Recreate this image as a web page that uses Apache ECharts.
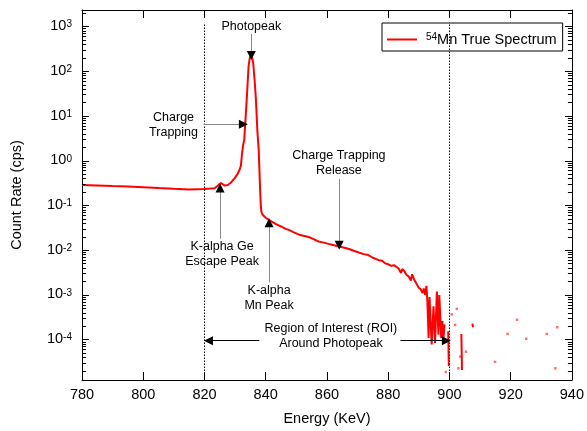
<!DOCTYPE html>
<html>
<head>
<meta charset="utf-8">
<script src="https://cdn.jsdelivr.net/npm/echarts@6/dist/echarts.min.js"></script>
<style type="text/css">
  body{ margin:0; background:#fff; }
  #main{ width:587px; height:431px; }
</style>
</head>
<body>
<div id="main"></div>
<script>
// spectrum, energy in keV and count rate in cps (null = empty bins)
var energy = [780, 785, 790, 795, 800, 805, 810, 815, 820, 822, 823.3, 824.3, 824.9, 825.4, 826, 826.6, 827.6, 828.5, 829.2, 830, 830.8, 831.5, 831.9, 832.2, 832.6, 833, 833.4, 833.8, 834.4, 834.8, 835.2, 835.6, 835.9, 836.4, 836.8, 837.3, 837.7, 838.2, 838.4, 838.6, 839, 840, 841, 842, 843.5, 845, 846.5, 847.6, 849, 850.9, 853, 854.5, 856, 857.4, 859, 860.5, 862, 864, 866, 867.5, 868.5, 870.4, 872, 873.5, 875, 876.9, 878, 879, 880.2, 881, 882, 883.4, 884.2, 884.6, 885.3, 886, 886.7, 887.4, 887.8, 888.5, 889.2, 889.9, 890.6, 891.2, 891.6, 892.1, 892.5, 892.8, 893.2, 893.5, 893.8, 894.2, 894.8, 895.3, 895.9, 896.4, 896.7, 897.3, 897.7, 898, 898.4, 898.9, 899.6, 899.8, 900.5, 903.9, 904.1, 905, 907.5, 907.7, 908];
var rate = [0.288, 0.281, 0.272, 0.265, 0.257, 0.245, 0.236, 0.229, 0.234, 0.24, 0.244, 0.275, 0.303, 0.319, 0.298, 0.278, 0.288, 0.318, 0.36, 0.42, 0.506, 0.64, 0.78, 1.3, 2.2, 3.0, 8.5, 23.5, 129, 200, 235, 200, 155, 60, 23.5, 4.3, 1.82, 0.2, 0.1, 0.071, 0.062, 0.0533, 0.048, 0.0437, 0.038, 0.034, 0.030, 0.0285, 0.0255, 0.0223, 0.0205, 0.0192, 0.0172, 0.0156, 0.0148, 0.0139, 0.0131, 0.0121, 0.0112, 0.0105, 0.0099, 0.0089, 0.0082, 0.0078, 0.0068, 0.0060, 0.0058, 0.0051, 0.0048, 0.0045, 0.0046, 0.0039, 0.0031, 0.0038, 0.0034, 0.0028, 0.0026, 0.0021, 0.0029, 0.0022, 0.0018, 0.00148, 0.00135, 0.0011, 0.0014, 0.001, 0.0016, 0.00072, 0.00011, 0.0009, 0.00093, 0.000078, 0.00056, 0.000085, 0.0012, 0.00013, 0.001, 0.00011, 0.00026, 0.000093, 0.00022, null, 0.000155, 0.000026, null, 0.000135, 0.000021, null, 0.00023, 0.00019, null];
// single isolated bins above 899 keV
var dotEnergy = [898.8, 900.75, 901.85, 902.4, 902.9, 903.5, 905.4, 914.9, 919.0, 922.1, 925.1, 931.8, 934.6, 935.2];
var dotRate = [0.000019, 0.00037, 0.000215, 0.00049, 0.000023, 0.000042, 0.000054, 0.000032, 0.000135, 0.00028, 0.000105, 0.000135, 0.000023, 0.00019];

var xTicks = [780, 800, 820, 840, 860, 880, 900, 920, 940];
var yDecades = [-4, -3, -2, -1, 0, 1, 2, 3];
var roiEdges = [820, 900];

// annotations: text, text position [keV, cps], arrow start, arrow tip
var noteText = ['Photopeak', 'Charge\nTrapping', 'Charge Trapping\nRelease', 'K-alpha Ge\nEscape Peak', 'K-alpha\nMn Peak', 'Region of Interest (ROI)\nAround Photopeak'];
var noteAt = [[835.3, 1000], [809.9, 6.4], [863.9, 0.87], [825.75, 0.0083], [841.1, 0.00085], [861.3, 0.000121]];
var arrowFrom = [[835.3, 690], [819.7, 6.55], [864.0, 0.39], [825.1, 0.018], [841.1, 0.0019], [837.9, 0.000095], [884.0, 0.000095]];
var arrowTo = [[835.3, 225], [832.7, 6.55], [864.0, 0.0129], [825.1, 0.247], [841.1, 0.0413], [821.3, 0.000095], [899.0, 0.000095]];
var arrowColor = ['#8a8a8a', '#8a8a8a', '#8a8a8a', '#8a8a8a', '#8a8a8a', '#000', '#000'];

var font = 'Liberation Sans';
var W = 587, H = 431;
var grid = {left: 82, right: 12, top: 10, bottom: 49};
var xMin = 780, xMax = 940;
var yMin = -4.9, yMax = 3.37;
var lg = function(v){ return v == null ? null : Math.log10(v); };
// pixels per data unit, used to turn tick lengths (px) into data lengths
var pxX = (W - grid.left - grid.right) / (xMax - xMin);
var pxY = (H - grid.top - grid.bottom) / (yMax - yMin);

var spectrum = [];
for (var i = 0; i < energy.length; i++) spectrum.push([energy[i], lg(rate[i])]);
var dots = [];
for (var i = 0; i < dotEnergy.length; i++) dots.push([dotEnergy[i], lg(dotRate[i])]);

var markLines = [];
var tickStyle = {color: '#000', width: 1, type: 'solid'};
var seg = function(p, q, style){
	markLines.push([
		{coord: p, symbol: 'none', lineStyle: style},
		{coord: q, symbol: 'none'}
	]);
};

// inward frame ticks on all four sides
var eps = 1e-6;
for (var i = 0; i < xTicks.length; i++) {
	var xv = Math.min(Math.max(xTicks[i], xMin + eps), xMax - eps);
	seg([xv, yMin + eps], [xv, yMin + 8 / pxY], tickStyle);
	seg([xv, yMax - eps], [xv, yMax - 8 / pxY], tickStyle);
}
for (var d = -5; d <= 3; d++) {
	for (var k = 1; k <= 9; k++) {
		var t = d + Math.log10(k);
		if (t <= yMin || t >= yMax) continue;
		var len = (k === 1 ? 7 : 4) / pxX;
		seg([xMin + eps, t], [xMin + len, t], tickStyle);
		seg([xMax - eps, t], [xMax - len, t], tickStyle);
	}
}

// dotted ROI borders
for (var i = 0; i < roiEdges.length; i++) {
	seg([roiEdges[i], yMin], [roiEdges[i], 3.08], {color: '#000', width: 1, type: [1.5, 1.5]});
}
// arrows: thin shaft plus a short black segment carrying the head
for (var i = 0; i < arrowFrom.length; i++) {
	var a = [arrowFrom[i][0], lg(arrowFrom[i][1])];
	var b = [arrowTo[i][0], lg(arrowTo[i][1])];
	seg(a, b, {color: arrowColor[i], width: 1, type: 'solid'});
	var h = [b[0] + (a[0] - b[0]) * 0.02, b[1] + (a[1] - b[1]) * 0.02];
	markLines.push([
		{coord: h, symbol: 'none', lineStyle: {color: '#000', width: 1, type: 'solid'}},
		{coord: b, symbol: 'triangle', symbolSize: 9}
	]);
}

var notes = [];
for (var i = 0; i < noteText.length; i++) {
	notes.push({
		coord: [noteAt[i][0], lg(noteAt[i][1])],
		label: {formatter: noteText[i]}
	});
}

var yAxisBase = function(pos, labels){
	return {
		type: 'value', position: pos, min: yMin, max: yMax,
		axisLine: {show: true, lineStyle: {color: '#000', width: 1}},
		axisTick: {show: false},
		axisLabel: labels ? {
			show: true, customValues: yDecades, margin: 10,
			formatter: function(v){ return '{b|10}{s|' + Math.round(v) + '}'; },
			rich: {
				b: {fontSize: 14.5, fontFamily: font, color: '#000', lineHeight: 14, padding: [6, 0, 0, 0], verticalAlign: 'bottom'},
				s: {fontSize: 10, fontFamily: font, color: '#000', lineHeight: 10, verticalAlign: 'top'}
			}
		} : {show: false},
		splitLine: {show: false}
	};
};
var yAxes = [yAxisBase('left', true), yAxisBase('right', false)];
yAxes[0].name = 'Count Rate (cps)';
yAxes[0].nameLocation = 'middle';
yAxes[0].nameGap = 58;
yAxes[0].nameTextStyle = {fontSize: 14.5, fontFamily: font, color: '#000'};

var xAxisBase = function(pos, labels){
	return {
		type: 'value', position: pos, min: xMin, max: xMax, interval: 20,
		axisLine: {show: true, onZero: false, lineStyle: {color: '#000', width: 1}},
		axisTick: {show: false},
		axisLabel: labels ? {show: true, fontSize: 14.5, fontFamily: font, color: '#000', margin: 7} : {show: false},
		splitLine: {show: false}
	};
};
var xAxes = [xAxisBase('bottom', true), xAxisBase('top', false)];
xAxes[0].name = 'Energy (KeV)';
xAxes[0].nameLocation = 'middle';
xAxes[0].nameGap = 31;
xAxes[0].nameTextStyle = {fontSize: 14.5, fontFamily: font, color: '#000'};

var chart = echarts.init(document.getElementById('main'));
chart.setOption({
	animation: false,
	backgroundColor: '#fff',
	grid: grid,
	xAxis: xAxes,
	yAxis: yAxes,
	legend: {
		data: ['54Mn True Spectrum'],
		left: 382, top: 23,
		padding: [4, 6, 4, 5],
		borderColor: '#000', borderWidth: 1, borderRadius: 0,
		backgroundColor: '#fff',
		icon: 'rect', itemWidth: 30, itemHeight: 2,
		formatter: function(){ return '{s|54}{t|Mn True Spectrum}'; },
		textStyle: {
			rich: {
				s: {fontSize: 10, fontFamily: font, color: '#000', lineHeight: 10, verticalAlign: 'top', padding: [0, 0, 0, 4]},
				t: {fontSize: 14.5, fontFamily: font, color: '#000', lineHeight: 15, padding: [5, 0, 0, 0], verticalAlign: 'bottom'}
			}
		}
	},
	series: [
		{
			name: '54Mn True Spectrum',
			type: 'line',
			data: spectrum,
			showSymbol: false,
			symbol: 'none',
			connectNulls: false,
			lineStyle: {color: '#ff0000', width: 2},
			itemStyle: {color: '#ff0000'},
			z: 3,
			markLine: {
				silent: true,
				symbol: 'none',
				label: {show: false},
				emphasis: {disabled: true},
				data: markLines
			},
			markPoint: {
				silent: true,
				symbol: 'circle',
				symbolSize: 0,
				itemStyle: {color: 'transparent'},
				label: {show: true, position: 'inside', color: '#000', fontSize: 12.5, fontFamily: font, lineHeight: 15},
				data: notes
			}
		},
		{
			name: 'dots',
			type: 'scatter',
			data: dots,
			symbol: 'rect',
			symbolSize: 2.5,
			itemStyle: {color: 'rgba(255,0,0,0.7)'},
			silent: true
		}
	]
});
</script>
</body>
</html>
